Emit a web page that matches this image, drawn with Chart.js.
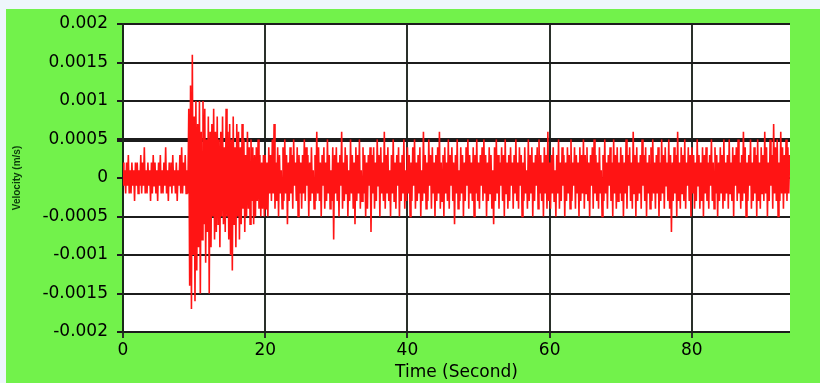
<!DOCTYPE html>
<html><head><meta charset="utf-8">
<script src="https://cdn.jsdelivr.net/npm/chart.js@4"></script>
<style>html,body{margin:0;padding:0;background:#fff;overflow:hidden}</style>
</head><body>
<canvas id="c" width="820" height="383"></canvas>
<script>
// ---- data ----
const sampleStepSeconds = 0.125;         // time between samples (s)
const valueUnit = 1e-4;                  // values below are in units of 1e-4
const velocityE4 = [
  // 0 - 4.875 s
  2,-1,1,-2,2,-1,3,-2,1,-2,2,-1,1,-3,2,-1,2,-2,1,-1,3,-2,2,-1,4,-2,1,-2,2,-1,1,-3,2,-2,3,-1,2,-2,1,-3,
  // 5 - 9.875 s
  2,-1,3,-2,1,-2,2,-1,4,-2,1,-3,2,-1,2,-2,3,-1,1,-2,2,-3,1,-1,3,-2,4,-2,2,-1,3,-2,1,-2,9,-14,12,-17,16,-10,
  // 10 - 14.875 s
  8,-16,10,-12,7,-9,10,-15,6,-8,10,-6,9,-11,5,-7,8,-15,6,-9,7,-5,9,-8,6,-7,8,-6,5,-9,6,-5,8,-6,4,-7,9,-5,6,-8,
  // 15 - 19.875 s
  7,-10,5,-12,8,-6,4,-9,7,-5,6,-8,4,-6,7,-4,5,-7,3,-5,6,-4,4,-6,5,-3,4,-6,3,-5,4,-3,5,-4,3,-5,2,-4,3,-5,
  // 20 - 24.875 s
  3,-4,2,-5,4,-2,3,-3,5,-2,7,-4,2,-3,4,-5,3,-2,1,-4,4,-3,5,-2,3,-6,2,-3,4,-2,3,-4,5,-1,2,-3,4,-5,3,-2,
  // 25 - 29.875 s
  2,-4,3,-2,5,-3,4,-1,3,-5,2,-3,4,-2,1,-4,3,-3,6,-2,4,-3,2,-5,3,-1,4,-4,2,-3,5,-2,3,-4,1,-3,4,-8,3,-2,
  // 30 - 34.875 s
  4,-3,2,-5,3,-1,6,-4,2,-3,4,-2,3,-5,1,-3,5,-2,3,-4,2,-6,4,-3,3,-2,5,-4,1,-3,4,-2,3,-5,2,-4,3,-1,4,-7,
  // 35 - 39.875 s
  3,-2,4,-4,2,-3,5,-1,3,-5,4,-2,2,-3,6,-4,3,-2,4,-3,1,-5,3,-2,5,-3,2,-4,3,-1,4,-5,2,-3,3,-2,5,-4,1,-3,
  // 40 - 44.875 s
  4,-2,3,-5,2,-3,4,-1,5,-4,2,-3,3,-2,4,-5,1,-3,6,-2,3,-4,2,-3,5,-1,3,-4,4,-2,2,-5,3,-3,4,-2,6,-4,2,-3,
  // 45 - 49.875 s
  3,-5,4,-2,2,-3,5,-4,3,-1,4,-3,2,-6,3,-2,5,-4,1,-3,4,-2,3,-5,2,-3,4,-1,5,-4,3,-2,2,-3,4,-5,3,-2,5,-3,
  // 50 - 54.875 s
  2,-4,3,-1,4,-3,5,-2,3,-5,2,-3,4,-2,3,-4,1,-6,4,-3,5,-2,3,-4,2,-1,4,-3,3,-5,5,-2,2,-4,3,-3,4,-1,2,-4,
  // 55 - 59.875 s
  3,-2,5,-3,2,-4,4,-1,3,-5,2,-3,4,-2,1,-4,5,-3,3,-2,4,-5,2,-3,3,-1,4,-4,5,-2,3,-3,2,-5,4,-2,3,-4,6,-3,
  // 60 - 64.875 s
  2,-4,3,-2,4,-3,1,-5,3,-2,5,-4,2,-3,4,-1,3,-5,2,-3,4,-2,3,-4,5,-3,2,-1,4,-4,3,-2,2,-5,4,-3,3,-2,5,-4,
  // 65 - 69.875 s
  3,-2,4,-3,2,-5,3,-1,4,-4,5,-2,3,-3,2,-4,4,-2,1,-5,3,-3,5,-2,2,-4,3,-1,4,-3,2,-5,5,-2,3,-4,4,-3,2,-2,
  // 70 - 74.875 s
  4,-3,3,-5,2,-2,5,-4,3,-1,4,-3,2,-4,6,-2,3,-5,4,-3,2,-2,3,-4,5,-1,3,-3,4,-5,2,-2,3,-4,4,-3,5,-2,2,-4,
  // 75 - 79.875 s
  3,-2,4,-5,2,-3,5,-2,3,-4,4,-1,2,-3,5,-4,3,-7,2,-3,4,-2,3,-5,6,-3,2,-4,4,-2,3,-3,5,-4,2,-1,4,-3,3,-5,
  // 80 - 84.875 s
  4,-2,3,-4,2,-3,5,-1,3,-4,2,-3,4,-5,3,-2,4,-3,2,-4,3,-1,5,-3,2,-4,4,-2,3,-5,2,-3,4,-2,3,-4,5,-3,2,-2,
  // 85 - 89.875 s
  3,-4,5,-2,2,-3,4,-5,3,-1,4,-3,5,-2,2,-4,3,-3,6,-2,4,-5,2,-3,3,-1,5,-4,2,-3,4,-2,3,-5,5,-3,2,-4,4,-2,
  // 90 - 93.75 s
  3,-3,6,-2,4,-5,2,-3,5,-1,3,-4,7,-2,4,-3,5,-5,2,-3,6,-2,4,-4,3,-2,5,-3,4,-2,3
];
const xTickValues = [0, 20, 40, 60, 80];
const yTickLabels = ['-0.002','-0.0015','-0.001','-0.0005','0','0.0005','0.001','0.0015','0.002'];
const xAxisTitle = 'Time (Second)';
const yAxisTitle = 'Velocity (m/s)';

// ---- build points ----
const points = velocityE4.map((v, i) => ({ x: i * sampleStepSeconds, y: v * valueUnit }));

const GREEN = '#72F24B';
const bgPlugin = {
  id: 'bg',
  beforeDraw(chart) {
    const { ctx, chartArea: a } = chart;
    ctx.save();
    ctx.fillStyle = '#eef6fb';
    ctx.fillRect(0, 0, chart.width, chart.height);
    ctx.fillStyle = GREEN;
    ctx.fillRect(6, 9, chart.width - 6, chart.height - 9);
    ctx.fillStyle = '#ffffff';
    ctx.fillRect(a.left, a.top, a.right - a.left, a.bottom - a.top);
    ctx.restore();
  }
};

const font = { family: 'DejaVu Sans, sans-serif', size: 17 };

new Chart(document.getElementById('c'), {
  type: 'line',
  data: {
    datasets: [{
      data: points,
      borderColor: '#ff1414',
      borderWidth: 1.6,
      pointRadius: 0,
      tension: 0,
      fill: false
    }]
  },
  options: {
    responsive: false,
    animation: false,
    events: [],
    layout: { padding: { left: 0, right: 30, top: 24, bottom: 0 } },
    plugins: { legend: { display: false }, tooltip: { enabled: false } },
    scales: {
      x: {
        type: 'linear',
        min: 0,
        max: 93.8,
        afterBuildTicks(s) { s.ticks = xTickValues.map(v => ({ value: v })); },
        afterFit(s) { s.height = 51; },
        border: { display: false },
        grid: { color: '#2a302a', lineWidth: 2, tickLength: 6, drawOnChartArea: true },
        ticks: { color: '#000', font, padding: 2, maxRotation: 0, callback: v => String(v) },
        title: { display: true, text: xAxisTitle, color: '#000', font, padding: { top: -6, bottom: 0 } }
      },
      y: {
        type: 'linear',
        min: -0.002,
        max: 0.002,
        afterBuildTicks(s) { s.ticks = yTickLabels.map((t, i) => ({ value: (i - 4) * 0.0005 })); },
        afterFit(s) { s.width = 123; },
        border: { display: true, color: '#1a2a1a', width: 2 },
        grid: {
          color: '#1c1c1c',
          lineWidth: ctx => (ctx.tick && Math.abs(ctx.tick.value - 0.0005) < 1e-9) ? 4 : 2,
          tickLength: 6
        },
        ticks: {
          color: '#000', font, padding: 9,
          callback: (v, i) => yTickLabels[i]
        },
        title: { display: true, text: yAxisTitle, color: '#0b3a0b', font: { family: 'Liberation Sans, Arial, sans-serif', size: 10, weight: 'bold' }, padding: { top: 11, bottom: 0 } }
      }
    }
  },
  plugins: [bgPlugin]
});
</script>
</body></html>
